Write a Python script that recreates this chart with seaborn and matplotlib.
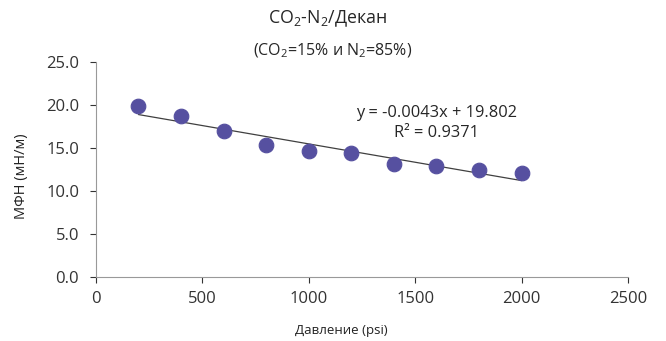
import numpy as np
import pandas as pd
import matplotlib
matplotlib.use("Agg")
import matplotlib.pyplot as plt
import seaborn as sns

# pressure (psi) and interfacial tension values
pressure = [200, 400, 600, 800, 1000, 1200, 1400, 1600, 1800, 2000]
ift = [19.85, 18.7, 17.0, 15.3, 14.65, 14.45, 13.1, 12.9, 12.44, 12.1]

df = pd.DataFrame({"pressure": pressure, "ift": ift})

sns.set_style("white")
plt.rcParams["font.family"] = ["Open Sans", "DejaVu Sans"]
plt.rcParams["mathtext.fontset"] = "custom"
plt.rcParams["mathtext.rm"] = "Open Sans"

fig = plt.figure(figsize=(6.66, 3.41), dpi=100)
ax = fig.add_axes([0.144, 0.188, 0.799, 0.630])

# linear trendline
k, b = np.polyfit(df["pressure"], df["ift"], 1)
xs = np.array([df["pressure"].min(), df["pressure"].max()])
ax.plot(xs, k * xs + b, color="#404040", lw=0.9, zorder=1)

sns.scatterplot(data=df, x="pressure", y="ift", ax=ax, s=110,
                color="#5650a0", edgecolor="#5650a0", zorder=2)

ax.set_xlim(0, 2500)
ax.set_ylim(0, 25)
ax.set_xticks(range(0, 2501, 500))
ax.set_yticks(np.arange(0, 25.1, 5))
ax.set_yticklabels([f"{v:.1f}" for v in np.arange(0, 25.1, 5)])
ax.tick_params(axis="both", labelsize=12, colors="#333333", length=4,
               width=0.8, direction="out", left=True, bottom=True)
ax.tick_params(axis="y", pad=8)
ax.tick_params(axis="x", pad=6)
for side in ["top", "right"]:
    ax.spines[side].set_visible(False)
for side in ["left", "bottom"]:
    ax.spines[side].set_color("#999999")
    ax.spines[side].set_linewidth(0.8)
for t in ax.get_xticklines() + ax.get_yticklines():
    t.set_color("#999999")

ax.set_xlabel("")
ax.set_ylabel("")
fig.text(0.512, 0.032, "Давление (psi)", fontsize=9.5, ha="center", va="center", color="#222222")
fig.text(0.033, 0.484, "МФН (мН/м)", fontsize=10.5, ha="center", va="center",
         rotation=90, color="#222222")

ax.text(1602, 19.07, "y = -0.0043x + 19.802", fontsize=11.8, ha="center", va="center")
ax.text(1602, 16.74, "R² = 0.9371", fontsize=11.8, ha="center", va="center")

fig.text(0.491, 0.945, "CO$_2$-N$_2$/Декан", fontsize=12.8, ha="center", va="center")
fig.text(0.5, 0.85, "(CO$_2$=15% и N$_2$=85%)", fontsize=11.5, ha="center", va="center")

fig.savefig("out.png", dpi=100)
